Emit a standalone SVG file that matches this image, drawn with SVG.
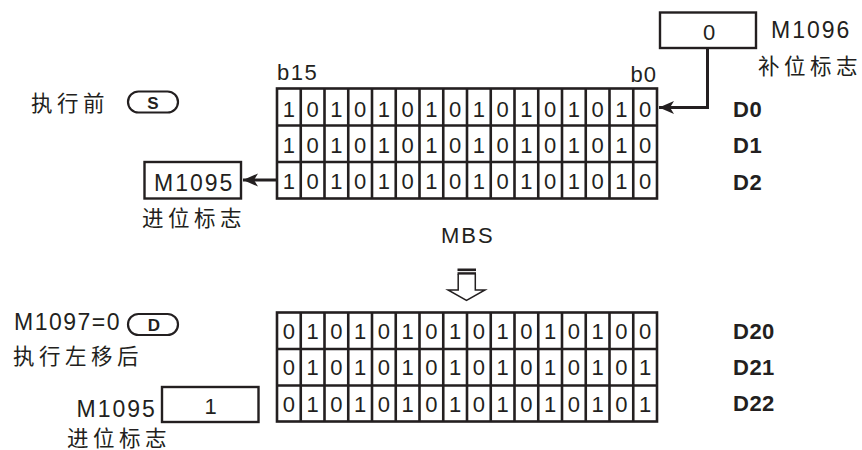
<svg xmlns="http://www.w3.org/2000/svg" width="862" height="450" viewBox="0 0 862 450">
<style>
.ln{fill:none;stroke:#231f20;stroke-width:2.6}
.bx{fill:none;stroke:#231f20;stroke-width:2.4}
.cap{fill:none;stroke:#231f20;stroke-width:2.2}
.dg{font-family:"Liberation Sans",Arial,sans-serif;font-size:22px;fill:#231f20;text-anchor:middle}
.lb{font-family:"Liberation Sans",Arial,sans-serif;font-size:23px;fill:#231f20;letter-spacing:2px}
.sm{font-family:"Liberation Sans",Arial,sans-serif;font-size:22px;fill:#231f20;letter-spacing:1.5px}
.bd{font-family:"Liberation Sans",Arial,sans-serif;font-size:22px;font-weight:bold;fill:#231f20;letter-spacing:0.5px}
.sb{font-family:"Liberation Sans",Arial,sans-serif;font-size:17px;font-weight:bold;fill:#231f20;text-anchor:middle}
.cn{font-family:"Noto Sans CJK SC","Noto Sans",sans-serif;font-size:21.5px;fill:#231f20;letter-spacing:4.5px}
.cl{fill:none;stroke:#231f20;stroke-width:3}
</style>
<defs>
<marker id="ah" markerUnits="userSpaceOnUse" markerWidth="20" markerHeight="16" viewBox="-16 -8 18 16" refX="0" refY="0" orient="auto">
<path d="M0,0 L-15,-6.5 L-11,0 L-15,6.5 Z" fill="#231f20"/>
</marker>
</defs>

<g id="before-label">
<text class="cn" x="31" y="110.5">执行前</text>
<rect class="cap" x="128" y="91.5" width="50" height="21" rx="10.5"/>
<text class="sb" x="153" y="108.5">S</text>
</g>

<g id="bit-labels">
<text class="sm" x="277" y="79.5">b15</text>
<text class="sm" x="657" y="82" text-anchor="end" style="letter-spacing:1px">b0</text>
</g>

<g id="src-grid">
<rect class="ln" x="277" y="88.5" width="380" height="110"/>
<path class="ln" d="M277,125.5H657M277,162H657M300.75,88.5V198.5M324.5,88.5V198.5M348.25,88.5V198.5M372,88.5V198.5M395.75,88.5V198.5M419.5,88.5V198.5M443.25,88.5V198.5M467,88.5V198.5M490.75,88.5V198.5M514.5,88.5V198.5M538.25,88.5V198.5M562,88.5V198.5M585.75,88.5V198.5M609.5,88.5V198.5M633.25,88.5V198.5"/>
<g id="D0">
<text class="dg" x="288.9 312.6 336.4 360.1 383.9 407.6 431.4 455.1 478.9 502.6 526.4 550.1 573.9 597.6 621.4 645.1" y="116.5">1010101010101010</text>
<text class="bd" x="733" y="116.5">D0</text>
</g>
<g id="D1">
<text class="dg" x="288.9 312.6 336.4 360.1 383.9 407.6 431.4 455.1 478.9 502.6 526.4 550.1 573.9 597.6 621.4 645.1" y="153">1010101010101010</text>
<text class="bd" x="733" y="153">D1</text>
</g>
<g id="D2">
<text class="dg" x="288.9 312.6 336.4 360.1 383.9 407.6 431.4 455.1 478.9 502.6 526.4 550.1 573.9 597.6 621.4 645.1" y="189">1010101010101010</text>
<text class="bd" x="733" y="190">D2</text>
</g>
</g>

<g id="M1096">
<rect class="bx" x="660" y="12.5" width="96" height="35.5"/>
<text class="dg" x="709" y="39.5">0</text>
<text class="lb" x="771" y="37.5">M1096</text>
<text class="cn" x="758" y="74">补位标志</text>
</g>

<g id="M1095-before">
<rect class="bx" x="144.5" y="162" width="96.5" height="36.5"/>
<text class="lb" x="154" y="191">M1095</text>
<text class="cn" x="142" y="225.5">进位标志</text>
</g>

<g id="instruction">
<text class="sm" x="441" y="243" style="letter-spacing:2px">MBS</text>
</g>

<g id="connectors">
<path class="cl" d="M707.5,48V107.5H659" marker-end="url(#ah)"/>
<path class="cl" d="M276,180H243" marker-end="url(#ah)"/>
<g id="mbs-arrow" fill="#231f20">
<rect x="457.5" y="268.5" width="18.5" height="2.6"/>
<rect x="457.5" y="272.2" width="18.5" height="2.4"/>
<path d="M458.2,274V290H448L466.5,300.5L485,290H475.3V274" fill="none" stroke="#231f20" stroke-width="1.5"/>
</g>
</g>

<g id="after-label">
<text class="lb" x="14" y="330" style="letter-spacing:1.5px">M1097=0</text>
<rect class="cap" x="128" y="314" width="50" height="21" rx="10.5"/>
<text class="sb" x="154" y="331">D</text>
<text class="cn" x="13" y="364">执行左移后</text>
</g>

<g id="dst-grid">
<rect class="ln" x="277" y="312.5" width="380" height="109"/>
<path class="ln" d="M277,349H657M277,385.5H657M300.75,312.5V421.5M324.5,312.5V421.5M348.25,312.5V421.5M372,312.5V421.5M395.75,312.5V421.5M419.5,312.5V421.5M443.25,312.5V421.5M467,312.5V421.5M490.75,312.5V421.5M514.5,312.5V421.5M538.25,312.5V421.5M562,312.5V421.5M585.75,312.5V421.5M609.5,312.5V421.5M633.25,312.5V421.5"/>
<g id="D20">
<text class="dg" x="288.9 312.6 336.4 360.1 383.9 407.6 431.4 455.1 478.9 502.6 526.4 550.1 573.9 597.6 621.4 645.1" y="338.8">0101010101010100</text>
<text class="bd" x="733" y="338.5">D20</text>
</g>
<g id="D21">
<text class="dg" x="288.9 312.6 336.4 360.1 383.9 407.6 431.4 455.1 478.9 502.6 526.4 550.1 573.9 597.6 621.4 645.1" y="375.3">0101010101010101</text>
<text class="bd" x="733" y="375">D21</text>
</g>
<g id="D22">
<text class="dg" x="288.9 312.6 336.4 360.1 383.9 407.6 431.4 455.1 478.9 502.6 526.4 550.1 573.9 597.6 621.4 645.1" y="411.8">0101010101010101</text>
<text class="bd" x="733" y="410.5">D22</text>
</g>
</g>

<g id="M1095-after">
<text class="lb" x="76.5" y="416.5">M1095</text>
<rect class="bx" x="162" y="387" width="96.5" height="35"/>
<text class="dg" x="210.5" y="413.5">1</text>
<text class="cn" x="67" y="445.5">进位标志</text>
</g>
</svg>
